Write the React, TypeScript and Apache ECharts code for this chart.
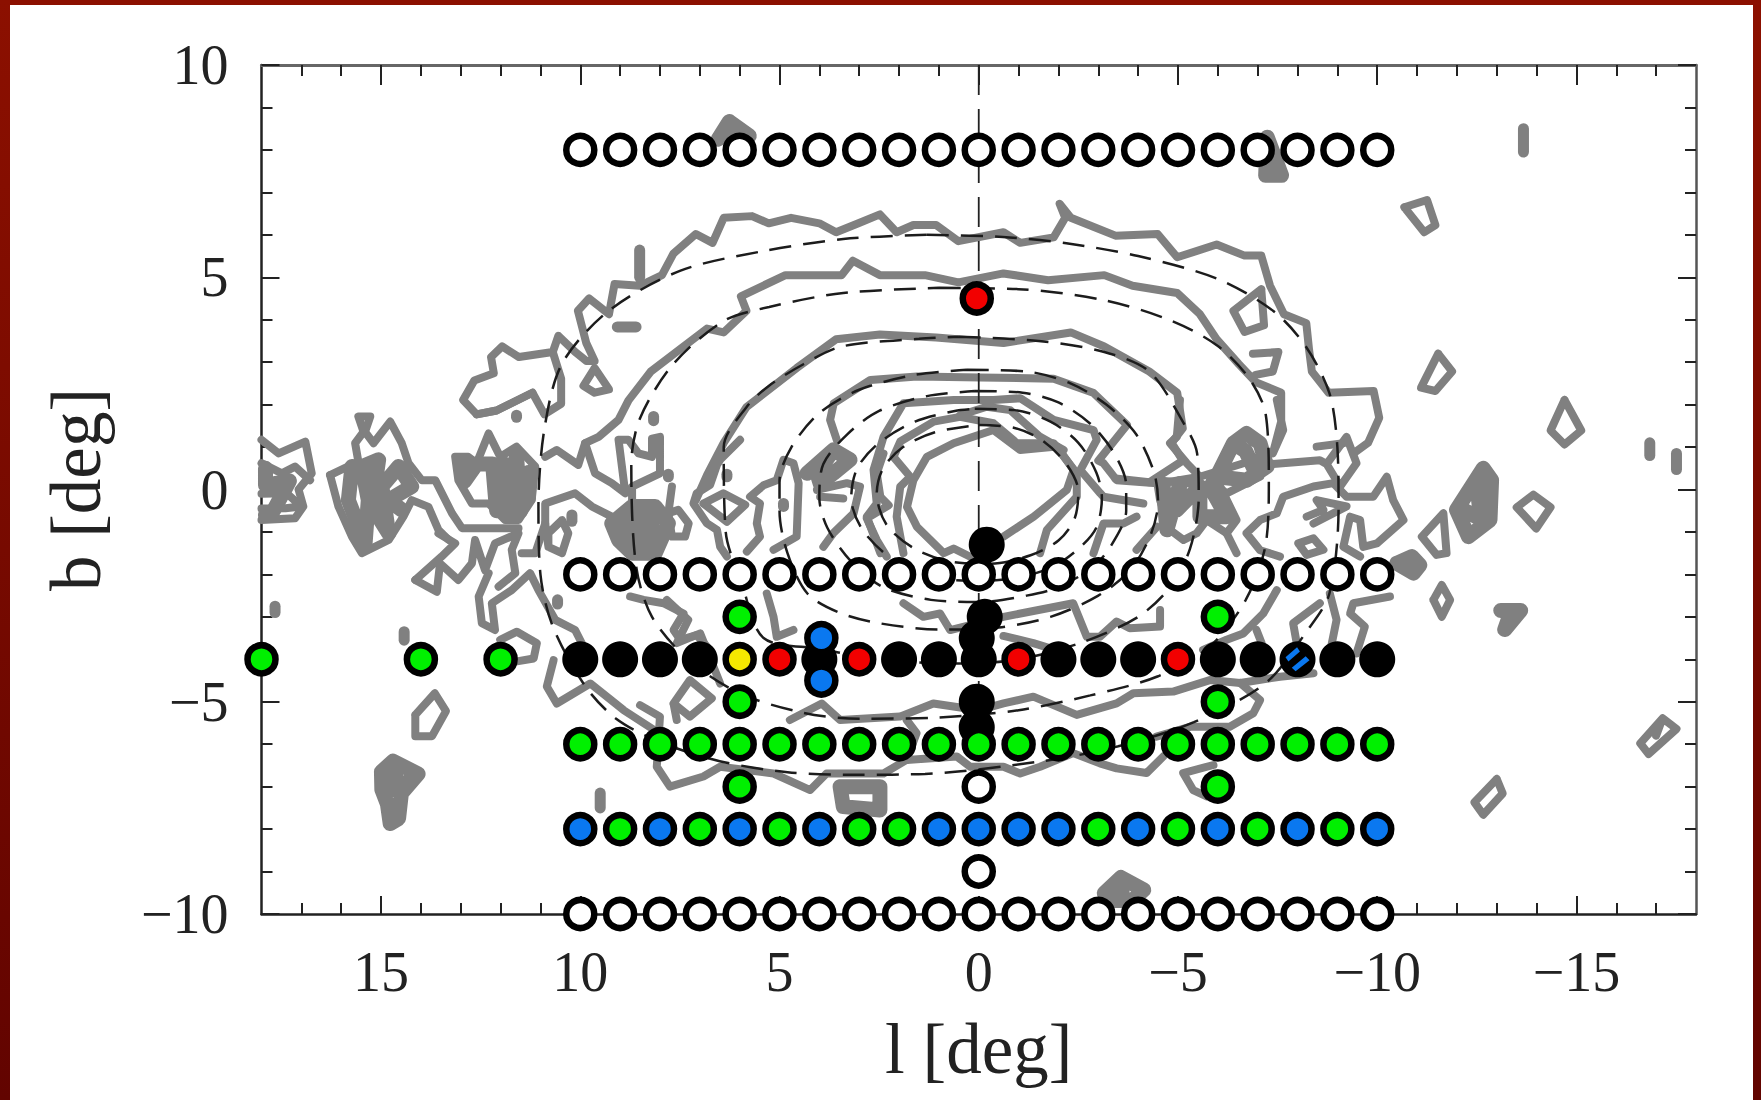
import React, { useEffect, useRef } from "react";
import * as echarts from "echarts";

type P = number[];

// ---- axes ----
const xLabelTicks = [-15, -10, -5, 0, 5, 10, 15];
const yLabelTicks = [-10, -5, 0, 5, 10];
const xMinorTicks = [-17,-16,-15,-14,-13,-12,-11,-10,-9,-8,-7,-6,-5,-4,-3,-2,-1,0,1,2,3,4,5,6,7,8,9,10,11,12,13,14,15,16,17];
const yMinorTicks = [-9,-8,-7,-6,-5,-4,-3,-2,-1,0,1,2,3,4,5,6,7,8,9];

// ---- grid of observed fields ----
const rowL = [10,9,8,7,6,5,4,3,2,1,0,-1,-2,-3,-4,-5,-6,-7,-8,-9,-10];
const openRows = [8, -2, -10];
const rowMinus4Fill = ["k","k","k","k","y","r","k","r","k","k","k","r","k","k","k","r","k","k","h","k","k"];
const rowMinus6Fill = ["g","g","g","g","g","g","g","g","g","g","g","g","g","g","g","g","g","g","g","g","g"];
const rowMinus8Fill = ["b","g","b","g","b","g","b","g","g","b","b","b","b","g","b","g","b","g","b","g","b"];
const extraGreen: P[] = [[18,-4],[14,-4],[12,-4],[6,-3],[6,-5],[6,-7],[-6,-3],[-6,-5],[-6,-7]];
const extraBlue: P[] = [[3.95,-3.5],[3.95,-4.5]];
const extraRed: P[] = [[0.05,4.5]];
const extraBlack: P[] = [[-0.2,-1.3],[-0.15,-3],[0.05,-3.5],[0.05,-5],[0.05,-5.6]];
const extraOpen: P[] = [[0,-7],[0,-9]];

// ---- dashed model contours ----
const dash1: P[] = [[1.3,6],[-0.6,5.95],[-2.2,5.8],[-4,5.5],[-6,4.96],[-7.4,4.2],[-8.2,3.38],[-8.8,2.27],[-9,1],[-9.03,-0.4],[-8.8,-2.45],[-8.2,-3.38],[-7.2,-4.56],[-5.4,-5.48],[-3.5,-6.05],[-1.6,-6.4],[1.35,-6.7],[3,-6.72],[4.8,-6.66],[6.5,-6.4],[8,-5.95],[9.1,-5.4],[9.9,-4.6],[10.7,-3.2],[11,-2],[11.05,-0.4],[10.9,1.43],[10.46,2.96],[9.3,4.2],[7.5,5.15],[5.5,5.6],[3.4,5.9],[1.3,6]];
const dash2: P[] = [[1,4.75],[-1,4.72],[-3.15,4.46],[-4.85,3.97],[-6,3.38],[-6.8,2.6],[-7.2,1.78],[-7.28,0.17],[-7.2,-1.3],[-6.7,-2.6],[-5.8,-3.7],[-4.5,-4.4],[-2.8,-4.85],[-1,-5.2],[1,-5.37],[3,-5.4],[4.4,-5.26],[6,-4.8],[7.3,-4],[8.2,-3],[8.6,-1.8],[8.72,0.6],[8.5,1.68],[7.67,2.95],[6.4,3.97],[5.26,4.3],[3.4,4.63],[1,4.75]];
const dash3: P[] = [[0.5,3.6],[-1.5,3.5],[-3.15,3.24],[-4.28,2.78],[-5.12,1.6],[-5.48,0.85],[-5.52,-0.2],[-5.3,-1.4],[-4.8,-2.3],[-4,-3],[-2.6,-3.6],[-1,-4],[0.5,-4.1],[2.5,-4],[4,-3.75],[5.4,-3.5],[5.95,-2.2],[6.35,-1],[6.4,1],[5.83,1.94],[5.27,2.44],[4.4,2.95],[3.44,3.37],[1.5,3.55],[0.5,3.6]];
const dash4: P[] = [[0.3,2.82],[-1.2,2.78],[-2.3,2.5],[-3.2,2],[-3.95,1.3],[-4.4,0.4],[-4.5,-0.3],[-4.3,-1.1],[-3.8,-1.9],[-3,-2.5],[-1.8,-3],[-0.5,-3.25],[1,-3.3],[2.5,-3.15],[3.5,-2.9],[4.3,-2.45],[4.8,-1.5],[5,-0.5],[5,0.2],[4.7,1],[4,1.8],[3,2.35],[1.6,2.7],[0.3,2.82]];
const dash5: P[] = [[0.1,2.32],[-1.1,2.28],[-2,2.05],[-2.8,1.55],[-3.4,0.85],[-3.7,0.1],[-3.7,-0.5],[-3.4,-1.2],[-2.9,-1.8],[-2,-2.3],[-1.2,-2.5],[0,-2.65],[1.2,-2.6],[2.4,-2.3],[3.2,-1.7],[3.8,-0.9],[4,-0.2],[3.9,0.6],[3.3,1.3],[2.5,1.85],[1.3,2.2],[0.1,2.32]];
const dash6: P[] = [[0.1,1.9],[-0.9,1.87],[-1.8,1.6],[-2.5,1.1],[-2.95,0.4],[-3.09,-0.2],[-2.95,-0.9],[-2.5,-1.4],[-1.8,-1.85],[-0.8,-2.1],[0.3,-2.15],[1.4,-2],[2.3,-1.55],[2.95,-0.9],[3.2,-0.2],[3.05,0.5],[2.5,1.1],[1.6,1.6],[0.6,1.85],[0.1,1.9]];
const dash7: P[] = [[0,1.52],[-0.9,1.45],[-1.6,1.15],[-2.2,0.6],[-2.5,-0.05],[-2.4,-0.7],[-2,-1.2],[-1.3,-1.55],[-0.3,-1.75],[0.7,-1.7],[1.6,-1.4],[2.3,-0.85],[2.56,-0.1],[2.4,0.5],[1.9,1],[1.1,1.35],[0,1.52]];
const centreLine: P[] = [[0,10],[0,-7]];

// ---- grey observed contours ----
const gOuterTop: P[] = [[11.2,2.28],[12.1,1.86],[12.6,1.77],[12.94,2.11],[12.66,2.57],[12.17,2.74],[12.24,3.12],[11.96,3.37],[11.54,3.12],[10.69,3.24],[10.55,3.62],[10.13,3.24],[9.85,3.03],[9.64,3.03],[9.85,3.45],[10.06,4.21],[9.78,4.5],[9.28,4.13],[9.14,4.84],[8.51,4.8],[7.95,5.05],[7.66,5.56],[7.1,6.02],[6.68,5.81],[6.4,6.4],[5.69,6.44],[5.27,6.27],[4.71,6.4],[4,6.27],[3.58,6.06],[3.02,6.27],[2.48,6.48],[2.06,6.06],[1.64,6.23],[1.07,6.23],[0.51,5.85],[-0.62,6.06],[-1.04,5.81],[-1.88,5.94],[-2.17,6.4],[-2.03,6.73],[-2.31,6.4],[-3.43,5.98],[-4.49,6.02],[-4.98,5.47],[-5.97,5.77],[-6.67,5.51],[-7.09,5.51],[-7.31,4.8],[-7.66,4.13],[-8.22,3.92],[-8.29,3.29],[-8.36,2.78],[-8.78,2.28],[-9.91,2.32],[-10.05,1.69],[-9.77,1.1],[-9.4,0.85]];
const gOuterLeftEnd: P[] = [[12.6,1.77],[12.1,1.86],[11.2,2.28],[10.9,1.77],[10.48,2.02],[10.48,2.61],[10.69,3.24]];
const gSecond: P[] = [[10.88,0.77],[10.59,0.93],[10.05,0.58],[9.88,1.09],[9.54,1.24],[9.04,1.64],[8.79,2.1],[8.23,2.78],[6.82,3.79],[6.4,3.7],[5.83,4.21],[5.97,4.55],[4.85,5.05],[3.44,5.05],[3.16,5.39],[2.48,5.05],[1.35,5.05],[0.51,4.88],[-0.62,5.09],[-1.74,4.93],[-3.15,5.05],[-3.86,4.8],[-4.98,4.63],[-5.55,4.13],[-5.97,3.54],[-6.53,2.95],[-6.95,2.53],[-7.59,2.28],[-7.59,1.6],[-7.38,0.85],[-7.64,1.4],[-7.48,2.11]];
const gLoopUpperRight1: P[] = [[-7.09,4.72],[-6.39,4.21],[-6.67,3.71],[-7.16,3.87],[-7.09,4.72]];
const gLoopUpperRight2: P[] = [[-6.88,3.2],[-7.52,3.24],[-7.38,2.78],[-6.95,2.7]];
const gRing1: P[] = [[9.64,2.86],[9.92,2.44],[9.64,2.28],[9.28,2.36],[9.64,2.86]];
const gThird: P[] = [[7.1,-0.25],[6.82,0.34],[6.4,1.1],[5.83,1.94],[4.57,2.86],[3.58,3.54],[2.48,3.65],[1.07,3.58],[-0.62,3.45],[-2.31,3.7],[-3.15,3.37],[-4.28,2.78],[-4.98,2.28],[-5.12,1.44],[-4.84,1.1],[-5.12,0.68],[-4.28,0.17],[-3.43,0.26]];
const gFourth: P[] = [[3.56,1.16],[3.73,1.64],[3.64,2.03],[2.72,2.58],[1.55,2.66],[-0.04,2.64],[-1.88,2.61],[-2.87,2.28],[-3.72,1.52],[-3,0.68],[-3.13,0.62],[-3.46,0.22],[-4.55,0.14],[-5.55,0.3],[-6.89,0.69],[-7.39,0.6],[-8.56,0.69],[-8.73,0.6],[-9.23,1.24],[-9.48,0.62],[-9.07,0.07],[-8.73,0.6]];
const gFifth: P[] = [[2.47,-1.5],[2.81,-0.64],[2.56,-0.33],[2.64,0.46],[2.39,1.24],[1.89,2.03],[0.63,2.11],[-0.37,2.11],[-1.04,2.15],[-1.88,1.64],[-2.88,1.4],[-2.96,1.17],[-2.55,0.46],[-3.05,-0.09],[-3.13,-0.17],[-4.13,-0.33]];
const gFifthB: P[] = [[0.47,1.75],[-0.2,1.95],[-0.79,1.87],[-1.54,1.24],[-2.13,0.93]];
const gSixth: P[] = [[1.89,-1.5],[2.06,-0.64],[1.97,0.07],[1.72,0.3],[2.14,0.77],[1.97,1.13],[1.13,1.6],[0.47,1.71],[-0.37,1.56],[-0.96,1.09],[-1.88,1.09],[-2.46,0.38],[-2.46,-0.17],[-1.71,-0.95],[-1.54,-1.5]];
const gInner: P[] = [[0.05,-1.66],[0.63,-1.39],[0.88,-1.5],[1.55,-0.88],[1.8,-0.41],[1.64,0.22],[1.3,0.77],[0.63,1.09],[-0.37,1.4],[-1.04,0.93],[-1.96,1.01],[-2.38,0.46],[-2.21,-0.01],[-1.38,-0.64],[-0.62,-1.11],[-0.2,-1.27]];
const gLeftEdge1: P[] = [[18,1.17],[17.57,0.85],[16.9,1.13],[16.74,0.38],[17.07,0],[16.95,-0.4],[17.16,-0.68],[18,-0.72]];
const gLeftEdge2: P[] = [[18,0.62],[17.49,0.38],[17.16,0.54],[16.78,0.22]];
const gLeftEdge3: P[] = [[18,-0.1],[17.37,-0.09],[17,-0.4],[17.4,-0.44],[18,-0.45]];
const gBlobBOuter: P[] = [[16.28,0.34],[15.57,0.66],[15.65,1.09],[15.44,1.36],[15.57,1.72],[15.27,1.72],[15.4,1.36],[15.19,1.09],[14.77,1.6],[14.48,1.09],[14.31,0.62],[13.98,0.22],[13.64,0.22],[13.22,-0.56],[12.97,-0.91],[11.55,-0.91]];
const gBlobBLower: P[] = [[16.28,0.34],[16.07,-0.4],[15.73,-1.11],[15.48,-1.5],[14.81,-1.19],[14.44,-0.64],[14.23,-0.25],[13.81,-0.41],[13.56,-0.95],[13.3,-1.19]];
const gBlobBFill: P[] = [[15.73,0.54],[15.82,-0.25],[15.4,-1.27],[15.32,-0.25],[15.48,0.54],[15.06,0.7],[15.23,-0.4],[14.81,-1.03],[14.98,0.07],[14.56,0.54],[14.23,0.07],[14.81,-0.25],[14.48,-0.48]];
const gLeftEdgeFill: P[] = [[17.9,0.5],[17.9,0.1],[17.3,0.2],[17.7,-0.5],[17.9,-0.6]];
const gTulip: P[] = [[13.14,0.77],[12.81,0.77],[12.6,0.62],[12.3,1.32],[12.01,0.77],[11.6,1.01],[11.13,0.54],[11.22,-0.25],[11.55,-0.72],[11.89,-0.72],[12.3,-0.33],[12.72,-0.33],[13.06,0.22],[13.14,0.77]];
const gTulipFill: P[] = [[13,0.6],[12.75,0.55],[12.9,0.2],[12.6,0.6],[12.2,0.6],[12.1,-0.5],[11.9,0.6],[11.8,-0.6],[11.6,0.8],[11.5,-0.5],[11.3,0.4],[11.3,-0.2]];
const gNet1: P[] = [[14.14,-2.13],[13.6,-2.41],[13.52,-1.74],[13.06,-2.13],[12.72,-1.74],[12.64,-1.19],[12.39,-1.9],[12.14,-1.27],[11.55,-1.03],[11.72,-1.42],[11.63,-1.97],[12.05,-2.29]];
const gNet2: P[] = [[14.14,-2.13],[13.48,-1.58],[13.14,-1.27],[13.56,-1.03]];
const gNet3: P[] = [[12.3,-1.97],[12.55,-2.52],[12.47,-3.15],[12.14,-3.31],[12.22,-2.68],[11.72,-2.37],[11.26,-1.97],[11.05,-2.37],[10.63,-3.07],[10.13,-3.31],[9.92,-3.7]];
const gNet4: P[] = [[11.47,-1.5],[11.13,-1.5],[10.88,-0.8],[10.88,-0.33],[10.13,-0.09],[9.71,-0.4],[9.21,-0.64]];
const gRingE: P[] = [[10.88,-0.8],[10.8,-1.35],[10.46,-1.5],[10.3,-1.03],[10.46,-0.72],[10.8,-1.03],[10.8,-1.35]];
const gLoopF: P[] = [[9.88,1.09],[9.63,0.38],[9.21,0.15],[8.87,-0.09],[9.04,1.17],[8.79,1.17],[8.54,0.85],[8.2,0.77],[8.2,1.2],[8,1.24],[8,0.38],[8.7,0.07],[8.7,-0.4]];
const gBlobG: P[] = [[9.21,-0.8],[8.7,-0.4],[8.12,-0.4],[7.79,-0.8],[8.12,-1.5],[8.7,-1.5],[9.04,-1.19],[9.21,-0.8],[8.9,-0.7],[8.9,-1.3],[8.5,-0.6],[8.5,-1.4],[8.2,-0.7],[8.2,-1.3]];
const gRingSmall: P[] = [[7.7,0.07],[7.79,-0.56],[7.54,-0.48],[7.28,-0.8],[7.37,-1.11],[7.7,-1.11],[7.79,-0.56]];
const gDiamond: P[] = [[6.91,-0.33],[6.41,-0.09],[5.86,-0.36],[6.32,-0.76],[6.91,-0.33]];
const gDiamondOuter: P[] = [[5.99,1.17],[6.49,0.7],[6.57,0.58],[6.74,0.11],[7.08,-0.09],[7.16,-0.33],[6.82,-0.8],[6.57,-0.95],[6.49,-1.35],[6.32,-1.58]];
const gMidA: P[] = [[5.82,-1.46],[5.49,-1.11],[5.57,-0.8],[5.49,-0.33],[5.74,-0.17],[5.4,0.1],[5.07,0.22],[4.9,0.7],[4.65,0.62],[4.52,0.15],[4.57,-1.11],[5.15,-1.42]];
const gMidBlob: P[] = [[4.31,0.38],[3.65,0.93],[3.23,0.7],[3.65,0.38],[3.98,0.14],[4.06,0.38],[3.65,0.93]];
const gMidB: P[] = [[4.06,-0.01],[3.31,0.15],[2.98,0.07],[3.14,-0.56],[3.65,-1.03],[3.9,-1.35]];
const gMidC: P[] = [[3.98,-0.17],[3.4,-0.21]];
const gMidD: P[] = [[2.39,0.85],[2.56,0.38],[2.47,-0.17],[2.26,-0.37],[2.81,-0.68],[2.56,-1.19],[2.31,-1.58]];
const gRightTop: P[] = [[-5.05,2.11],[-4.97,1.24],[-4.8,1.09],[-5.22,0.62],[-5.55,0.3]];
const gRightBlob1: P[] = [[-6.39,1.09],[-6.72,1.32],[-7.06,1.09],[-7.23,0.54],[-6.72,0.22],[-5.97,0.3],[-6.39,1.09],[-6.7,0.9],[-6.9,0.5]];
const gRightBlob2: P[] = [[-4.47,0.22],[-6.06,0.07],[-6.47,-0.72],[-6.22,-1.03],[-6.47,-1.5]];
const gRightBlob3: P[] = [[-4.47,0.22],[-4.55,-0.25],[-4.8,-0.95],[-5.14,-1.19],[-5.47,-1.03],[-5.72,-0.72],[-6.22,-1.03]];
const gRightBlobFill: P[] = [[-4.63,0.07],[-4.72,-0.95],[-5.05,0.14],[-4.97,-0.48],[-5.55,0.07],[-5.55,-0.64],[-6.22,-0.64],[-5.8,0.07]];
const gRightLink: P[] = [[-5.8,0.22],[-6.22,-0.09],[-7.06,0.3]];
const gRightSpur1: P[] = [[-3.96,-0.64],[-3.63,-0.8],[-3.13,-0.8],[-2.88,-1.5]];
const gRightSpur2: P[] = [[-4.47,-0.88],[-3.96,-1.42]];
const gRightLong: P[] = [[-7.56,-1.58],[-7.06,-1.43],[-6.72,-1.03],[-7.06,-0.72],[-7.48,-0.56],[-7.64,-0.17],[-8.4,0.07],[-8.9,0.15],[-9.23,-0.17],[-9.9,-0.17],[-10.24,0.3],[-10.4,-0.25],[-10.66,-0.72],[-9.99,-1.27],[-9.65,-1.35],[-9.57,-0.72],[-9.32,-0.64],[-9.15,-1.35],[-9.57,-1.58]];
const gRightSmall: P[] = [[-8.23,-0.64],[-8.65,-0.48],[-8.48,-0.25],[-9.23,-0.4],[-8.4,-0.8]];
const gRingRight: P[] = [[-8.02,-1.27],[-8.4,-1.15],[-8.65,-1.42],[-8.23,-1.54],[-8.02,-1.27]];
const gRightLoop2: P[] = [[-8.48,1.01],[-9.15,1.09]];
const gIsoTri: P[] = [[-11.12,-1.11],[-11.66,-0.56],[-11.74,-1.5],[-11.49,-1.54],[-11.12,-1.11]];
const gIsoBlob: P[] = [[-11.99,-0.48],[-12.66,0.5],[-12.87,0.22],[-12.83,-0.72],[-12.29,-1.11],[-11.99,-0.48],[-12.2,-0.5],[-12.6,-0.7],[-12.5,0.1],[-12.75,-0.2]];
const gIsoDiamond: P[] = [[-10.49,-1.74],[-10.87,-1.58],[-11.07,-1.78],[-10.91,-1.97],[-10.49,-1.74],[-10.9,-1.78]];
const gIsoRing: P[] = [[-11.41,-2.6],[-11.62,-2.25],[-11.83,-2.6],[-11.62,-3],[-11.41,-2.6]];
const gIsoWedge: P[] = [[-13.1,-2.85],[-13.6,-2.85],[-13.2,-3.3],[-13.35,-2.9]];
const gBelowA: P[] = [[-10.32,-2.52],[-9.4,-2.68],[-9.32,-2.92],[-9.69,-3.23],[-9.48,-3.86]];
const gBelowB: P[] = [[-8.81,-2.45],[-8.98,-3.07],[-8.81,-3.86]];
const gBelowC: P[] = [[-8.56,-2.68],[-7.89,-3.15],[-7.98,-3.62]];
const gDiag: P[] = [[-7.48,-2.37],[-7.14,-2.92],[-6.64,-3.39],[-6.22,-3.54],[-5.63,-3.78]];
const gDiag2: P[] = [[-6.97,-3.31],[-7.1,-3.62]];
const gUpperBottom: P[] = [[-4.55,-2.84],[-4.55,-3.23],[-3.79,-3.27],[-3.46,-3.11],[-3.04,-3.47],[-2.71,-3.47],[-2.37,-2.68],[-0.62,-3],[0.72,-3.31],[0.97,-2.92],[1.39,-3],[1.89,-2.68]];
const gUnderRow: P[] = [[-0.62,-3.45],[-1.37,-3.62],[-2,-3.8]];
const gLowMain: P[] = [[4.74,-5.43],[3.94,-5.04],[3.48,-5.43],[1.98,-5.35],[1.14,-5.04],[0,-5.2],[-0.62,-5.04],[-1.37,-4.88],[-2.46,-5.31],[-3.46,-5.04],[-3.88,-4.8],[-4.88,-4.76],[-5.8,-4.49],[-6.56,-4.56],[-7.56,-4.41],[-8.4,-4.33]];
const gLowLoop: P[] = [[-6.56,-4.56],[-7.06,-4.96],[-6.89,-5.27],[-6.3,-5.59],[-5.3,-5.59],[-4.46,-5.82]];
const gBottomMain: P[] = [[8.5,-5.08],[8,-5.35],[8.08,-6.53],[7.75,-7],[6.91,-6.76],[6.49,-6.53],[5.15,-6.69],[4.23,-7.08],[3.82,-6.69],[2.39,-6.69],[1.81,-6.37],[0.55,-6.29],[0.22,-6.53],[-0.62,-6.53],[-1.04,-6.69],[-1.54,-6.53],[-2.37,-6.21],[-3.04,-6.45],[-3.46,-6.57],[-4.21,-6.68],[-4.63,-6.29]];
const gBottomStub: P[] = [[1.81,-6.37],[1.56,-5.74],[1.81,-5.43]];
const gHook: P[] = [[-5.89,-6.49],[-5.13,-6.68],[-5.38,-7.08],[-5.72,-7.23]];
const gRingBottom: P[] = [[3.48,-7],[2.48,-7],[2.48,-7.55],[3.4,-7.47],[3.48,-7]];
const gTriangleLow: P[] = [[7.66,-5.04],[7.25,-4.49],[6.7,-4.92],[7.25,-5.35],[7.66,-5.04],[7.58,-5.43]];
const gLeftLow1: P[] = [[7.83,-2.6],[7.29,-3.07],[7.58,-3.62],[6.99,-3.39],[6.49,-4.57]];
const gLeftLow2: P[] = [[10.67,-4.02],[10.84,-4.64],[10.59,-5.04],[9.75,-4.57],[8.91,-5.2],[7.99,-5.76],[7.66,-6.07]];
const gCShape: P[] = [[12.01,-3.54],[11.59,-3.35],[11.09,-3.62],[11.17,-3.98],[11.59,-4.05]];
const gLeftLow3: P[] = [[8.75,-2.52],[8.41,-2.6],[7.91,-2.68],[7.41,-2.92],[7.66,-3.31],[7.49,-3.54],[7.08,-3.43],[6.82,-3.7]];
const gLeftLow4: P[] = [[5.32,-2.45],[5.15,-3],[5.07,-3.47],[4.65,-3.31]];
const gIsoLeftRing: P[] = [[14.14,-5.31],[13.65,-4.8],[13.37,-5.22],[13.72,-5.81],[14.14,-5.81],[14.14,-5.31]];
const gIsoLeftBlob: P[] = [[14.99,-6.65],[14.7,-6.4],[14.07,-6.7],[14.49,-7.16],[14.56,-7.75],[14.77,-7.87],[14.84,-7.41],[14.98,-7.07],[14.99,-6.65],[14.6,-6.6],[14.8,-7.1],[14.4,-6.9]];
const gFarRing1: P[] = [[-17.16,-5.39],[-17.51,-5.64],[-16.81,-6.23],[-16.6,-5.98],[-17.16,-5.39],[-17,-5.8]];
const gFarRing2: P[] = [[-13,-6.82],[-13.15,-7.16],[-12.66,-7.66],[-12.44,-7.37],[-13,-6.82]];
const gBumpBottom: P[] = [[-3.15,-9.51],[-3.57,-9.14],[-4.14,-9.43],[-3.86,-9.68],[-3.29,-9.68],[-3.15,-9.51],[-3.6,-9.5]];
const gBumpTopL: P[] = [[6.54,8.25],[6.26,8.67],[5.76,8.33],[6.3,8.3]];
const gBumpTopR: P[] = [[-7.24,8.3],[-7.2,7.4],[-7.6,7.4],[-7.24,8.3],[-7.35,7.7]];
const gTopTri: P[] = [[-10.68,6.65],[-11.25,6.82],[-11.46,6.23],[-11.18,6.06],[-10.68,6.65]];
const gRing3: P[] = [[-11.53,3.2],[-11.88,2.78],[-11.46,2.32],[-11.1,2.4],[-11.53,3.2]];
const gDiamond2: P[] = [[-14.7,2.11],[-15.12,1.39],[-14.7,1.06],[-14.35,1.39],[-14.7,2.11]];
const gRing4: P[] = [[-13.5,-0.42],[-13.92,-0.12],[-14.35,-0.42],[-13.99,-0.92],[-13.5,-0.42]];
const gSpots: P[][] = [[[-13.67,8.5],[-13.67,7.95]],[[-16.84,1.1],[-16.84,0.8]],[[-17.51,0.85],[-17.51,0.47]],[[8.51,5.64],[8.51,5]],[[9.07,3.83],[8.6,3.83]],[[11.6,1.75],[11.6,1.7]],[[8.16,1.72],[8.16,1.62]],[[10.21,-0.6],[10.21,-0.75]],[[7.79,0.36],[7.79,0.3]],[[6.32,0.36],[6.32,0.3]],[[4.9,-0.33],[4.9,-0.4]],[[9.5,-7.15],[9.5,-7.5]],[[17.66,-2.75],[17.66,-2.9]],[[14.42,-3.35],[14.42,-3.55]],[[10.57,-2.6],[10.57,-2.7]]];

const gContours: P[][] = [gOuterTop,gOuterLeftEnd,gSecond,gLoopUpperRight1,gLoopUpperRight2,gRing1,gThird,gFourth,gFifth,gFifthB,gSixth,gInner,gLeftEdge1,gLeftEdge2,gLeftEdge3,gBlobBOuter,gBlobBLower,gTulip,gNet1,gNet2,gNet3,gNet4,gRingE,gLoopF,gRingSmall,gDiamond,gDiamondOuter,gMidA,gMidB,gMidC,gMidD,gRightTop,gRightBlob2,gRightBlob3,gRightLink,gRightSpur1,gRightSpur2,gRightLong,gRightSmall,gRingRight,gRightLoop2,gIsoTri,gIsoRing,gBelowA,gBelowB,gBelowC,gDiag,gDiag2,gUpperBottom,gUnderRow,gLowMain,gLowLoop,gBottomMain,gBottomStub,gHook,gTriangleLow,gLeftLow1,gLeftLow2,gCShape,gLeftLow3,gLeftLow4,gIsoLeftRing,gFarRing1,gFarRing2,gTopTri,gRing3,gDiamond2,gRing4];
const gHeavy: P[][] = [gBlobBFill,gLeftEdgeFill,gTulipFill,gBlobG,gMidBlob,gRightBlob1,gRightBlobFill,gIsoBlob,gIsoDiamond,gIsoWedge,gRingBottom,gIsoLeftBlob,gBumpBottom,gBumpTopL,gBumpTopR];
const dashedContours: P[][] = [dash1,dash2,dash3,dash4,dash5,dash6,dash7];

const fills: Record<string, string> = { g: "#00f000", b: "#0a78f0", r: "#f20000", y: "#f5e800", w: "#ffffff" };
const MINUS = "\u2212";
const FONT = "Liberation Serif";
const INK = "#222222";

function fmt(v: number) {
  return v < 0 ? MINUS + Math.abs(v) : String(v);
}

function rowPoints(b: number, codes: string[], code: string): P[] {
  const out: P[] = [];
  codes.forEach((c, i) => {
    if (c === code) out.push([rowL[i], b]);
  });
  return out;
}

function buildOption() {
  const labelStyle = { show: true, color: INK, fontFamily: FONT, fontSize: 56, formatter: fmt };
  const lineS = { show: true, onZero: false, lineStyle: { color: INK, width: 2.5 } };

  const xAxes = [
    { position: "bottom", major: true, labels: true },
    { position: "bottom", major: false, labels: false },
    { position: "top", major: true, labels: false },
    { position: "top", major: false, labels: false },
  ].map((a, i) => ({
    type: "value",
    inverse: true,
    min: -18,
    max: 18,
    position: a.position,
    splitLine: { show: false },
    axisLine: i === 0 ? lineS : i === 2 ? { show: true, onZero: false, lineStyle: { color: "#666666", width: 3 } } : { show: false, onZero: false },
    axisTick: {
      show: true,
      inside: true,
      length: a.major ? (a.position === "top" ? 20 : 18) : 11,
      customValues: a.major ? xLabelTicks : xMinorTicks,
      lineStyle: { color: INK, width: 2 },
    },
    axisLabel: a.labels ? { ...labelStyle, margin: 30, customValues: xLabelTicks } : { show: false },
    ...(i === 0
      ? {
          name: "l [deg]",
          nameLocation: "middle",
          nameGap: 99,
          nameTextStyle: { color: INK, fontFamily: FONT, fontSize: 71 },
        }
      : {}),
  }));

  const yAxes = [
    { position: "left", major: true, labels: true },
    { position: "left", major: false, labels: false },
    { position: "right", major: true, labels: false },
    { position: "right", major: false, labels: false },
  ].map((a, i) => ({
    type: "value",
    min: -10,
    max: 10,
    position: a.position,
    splitLine: { show: false },
    axisLine: i === 0 ? lineS : i === 2 ? { show: true, onZero: false, lineStyle: { color: "#555555", width: 2.5 } } : { show: false, onZero: false },
    axisTick: {
      show: true,
      inside: true,
      length: a.major ? 18 : 11,
      customValues: a.major ? yLabelTicks : yMinorTicks,
      lineStyle: { color: INK, width: 2 },
    },
    axisLabel: a.labels ? { ...labelStyle, margin: 33, customValues: yLabelTicks } : { show: false },
    ...(i === 0
      ? {
          name: "b [deg]",
          nameLocation: "middle",
          nameGap: 150,
          nameRotate: 90,
          nameTextStyle: { color: INK, fontFamily: FONT, fontSize: 71 },
        }
      : {}),
  }));

  const line = (data: P[], lineStyle: any, z: number) => ({
    type: "line",
    data,
    symbol: "none",
    silent: true,
    z,
    lineStyle,
  });

  const greySeries = gContours.map((d) =>
    line(d, { color: "#808080", width: 8, join: "round", cap: "round" }, 2)
  );
  const heavySeries = gHeavy.map((d) =>
    line(d, { color: "#808080", width: 15, join: "round", cap: "round" }, 2)
  );
  const spotSeries = gSpots.map((d) =>
    line(d, { color: "#808080", width: 11, join: "round", cap: "round" }, 2)
  );
  const dashSeries = dashedContours.map((d) => ({
    ...line(d, { color: "#1c1c1c", width: 2.5, type: [22, 12] }, 3),
    smooth: 0.3,
  }));
  const centre = line(centreLine, { color: "#222222", width: 1.8, type: [30, 14] }, 3);

  const scatter = (data: P[], color: string, z: number) => ({
    type: "scatter",
    data,
    symbol: "circle",
    symbolSize: 28,
    clip: false,
    silent: true,
    z,
    itemStyle: { color, borderColor: "#000000", borderWidth: 6.5, opacity: 1 },
  });

  const openPts: P[] = [
    ...openRows.flatMap((b) => rowL.map((l) => [l, b])),
    ...extraOpen,
  ];
  const blackPts: P[] = [
    ...rowPoints(-4, rowMinus4Fill, "k"),
    ...rowPoints(-4, rowMinus4Fill, "h"),
    ...extraBlack,
  ];
  const greenPts: P[] = [
    ...rowPoints(-6, rowMinus6Fill, "g"),
    ...rowPoints(-8, rowMinus8Fill, "g"),
    ...extraGreen,
  ];
  const bluePts: P[] = [...rowPoints(-8, rowMinus8Fill, "b"), ...extraBlue];
  const redPts: P[] = [...rowPoints(-4, rowMinus4Fill, "r"), ...extraRed];
  const yellowPts: P[] = rowPoints(-4, rowMinus4Fill, "y");
  const hatchPts: P[] = rowPoints(-4, rowMinus4Fill, "h");

  const series = [
    ...greySeries,
    ...heavySeries,
    ...spotSeries,
    ...dashSeries,
    centre,
    {
      type: "scatter",
      data: blackPts,
      symbol: "circle",
      symbolSize: 36,
      clip: false,
      silent: true,
      z: 5,
      itemStyle: { color: "#000000", opacity: 1 },
    },
    scatter(openPts, fills.w, 6),
    scatter(greenPts, fills.g, 6),
    scatter(bluePts, fills.b, 6),
    scatter(redPts, fills.r, 6),
    scatter(yellowPts, fills.y, 6),
    {
      type: "scatter",
      data: hatchPts,
      symbol: "path://M0 46 L48 8 L60 24 L12 62 Z M26 86 L84 42 L100 58 L42 100 Z",
      symbolSize: 24,
      clip: false,
      silent: true,
      z: 7,
      itemStyle: { color: fills.b, opacity: 1 },
    },
  ];

  return {
    animation: false,
    backgroundColor: "#ffffff",
    grid: { left: 261.5, top: 65, width: 1434.5, height: 849, containLabel: false },
    xAxis: xAxes,
    yAxis: yAxes,
    series,
  };
}

export default function App() {
  const ref = useRef<HTMLDivElement>(null);
  useEffect(() => {
    document.body.style.margin = "0";
    document.body.style.background = "#ffffff";
    const chart = echarts.init(ref.current as HTMLDivElement, undefined, { renderer: "svg" });
    chart.setOption(buildOption() as any);
    return () => chart.dispose();
  }, []);
  return (
    <div style={{ position: "relative", width: 1761, height: 1100, overflow: "hidden", background: "#fff" }}>
      <div ref={ref} style={{ position: "absolute", left: 0, top: 0, width: 1761, height: 1100 }} />
      <div style={{ position: "absolute", left: 0, top: 0, width: 1761, height: 4.5, background: "#8c1000" }} />
      <div style={{ position: "absolute", left: 0, top: 0, width: 10, height: 1100, background: "linear-gradient(#8c1000, #620400)" }} />
      <div style={{ position: "absolute", right: 0, top: 0, width: 8, height: 1100, background: "linear-gradient(#8c1000, #620400)" }} />
    </div>
  );
}
